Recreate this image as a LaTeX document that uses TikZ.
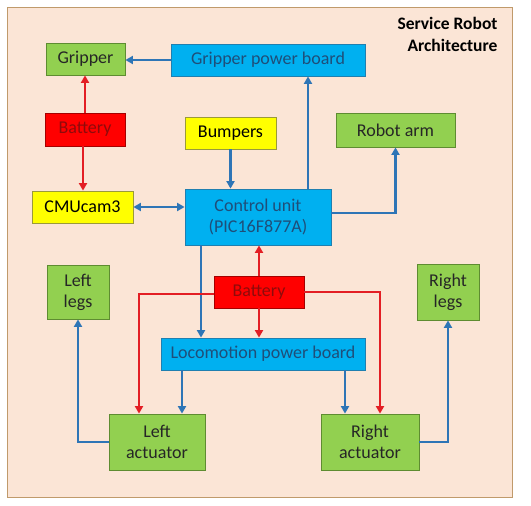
\documentclass[tikz,border=0pt]{standalone}
\usepackage{fontspec}
\setmainfont{Carlito}
\usetikzlibrary{arrows.meta}
\definecolor{bgpeach}{HTML}{FBE5D6}
\definecolor{framec}{HTML}{C09A6B}
\definecolor{gfill}{HTML}{92D050}
\definecolor{gdraw}{HTML}{5E8C31}
\definecolor{bfill}{HTML}{00B0F0}
\definecolor{bdraw}{HTML}{1F7FB0}
\definecolor{btext}{HTML}{1F4E79}
\definecolor{yfill}{HTML}{FFFF00}
\definecolor{ydraw}{HTML}{9A9A3A}
\definecolor{rfill}{HTML}{FF0000}
\definecolor{rdraw}{HTML}{A50000}
\definecolor{rtext}{HTML}{8E0B0B}
\definecolor{bline}{HTML}{2E75B6}
\definecolor{rline}{HTML}{E31E24}
\tikzset{
  box/.style={rectangle, inner sep=0pt, align=center, line width=0.8pt,
    font=\fontsize{18}{21}\selectfont},
  gbox/.style={box, fill=gfill, draw=gdraw, text=black!85},
  bbox/.style={box, fill=bfill, draw=bdraw, text=btext},
  ybox/.style={box, fill=yfill, draw=ydraw, text=black},
  rbox/.style={box, fill=rfill, draw=rdraw, text=rtext},
  bl/.style={draw=bline, line width=2.4pt, -{Triangle[length=7.5pt,width=8pt]}},
  rl/.style={draw=rline, line width=2.4pt, -{Triangle[length=7.5pt,width=8pt]}},
}
\begin{document}
\begin{tikzpicture}[x=1pt,y=-1pt]
\useasboundingbox (0,0) rectangle (531,506);
\path[fill=bgpeach, draw=framec, line width=1pt] (7,7) rectangle (512,497);
\node[anchor=east, align=right, font=\bfseries\fontsize{17.5}{22}\selectfont] (title) at (501,34) {Service Robot\\Architecture};

\node[gbox, minimum width=79pt, minimum height=32pt] (gripper) at (85.5,59) {Gripper};
\node[bbox, minimum width=194pt, minimum height=32pt] (gpb) at (268,60) {Gripper power board};
\node[rbox, minimum width=80pt, minimum height=33pt] (bat1) at (85,129.5) {Battery};
\node[ybox, minimum width=91pt, minimum height=32pt] (bumpers) at (230.5,133) {Bumpers};
\node[gbox, minimum width=119pt, minimum height=34pt] (arm) at (395.5,130) {Robot arm};
\node[ybox, minimum width=101pt, minimum height=32pt] (cmu) at (82.5,207) {CMUcam3};
\node[bbox, minimum width=146pt, minimum height=56pt] (ctrl) at (258,217) {Control unit\\(PIC16F877A)};
\node[gbox, minimum width=62pt, minimum height=54pt] (lleg) at (78,292) {Left\\legs};
\node[gbox, minimum width=62pt, minimum height=56pt] (rleg) at (448,292) {Right\\legs};
\node[rbox, minimum width=90pt, minimum height=32pt] (bat2) at (259,292) {Battery};
\node[bbox, minimum width=204pt, minimum height=32pt] (lpb) at (263,354) {Locomotion power board};
\node[gbox, minimum width=96pt, minimum height=56pt] (lact) at (157,442) {Left\\actuator};
\node[gbox, minimum width=98pt, minimum height=56pt] (ract) at (370,442) {Right\\actuator};

% blue connectors
\draw[bl] (gpb.west) -- (gpb.west -| gripper.east);
\draw[bl] ([xshift=50pt]ctrl.north) -- ([xshift=50pt]ctrl.north |- gpb.south);
\draw[bl] (bumpers.south) -- (bumpers.south |- ctrl.north);
\draw[bl, {Triangle[length=7.5pt,width=8pt]}-{Triangle[length=7.5pt,width=8pt]}] (cmu.east) -- (cmu.east -| ctrl.west);
\draw[bl] ([yshift=4pt]ctrl.east) -| (arm.south);
\draw[bl] ([xshift=-57pt]ctrl.south) -- ([xshift=-57pt]ctrl.south |- lpb.north);
\draw[bl] ([xshift=-81pt]lpb.south) -- ([xshift=-81pt]lpb.south |- lact.north);
\draw[bl] ([xshift=82pt]lpb.south) -- ([xshift=82pt]lpb.south |- ract.north);
\draw[bl] (lact.west) -| (lleg.south);
\draw[bl] (ract.east) -| (rleg.south);

% red connectors
\draw[rl] (bat1.north) -- (bat1.north |- gripper.south);
\draw[rl] ([xshift=-2pt]bat1.south) -- ([xshift=-2pt]bat1.south |- cmu.north);
\draw[rl] (bat2.north) -- (bat2.north |- ctrl.south);
\draw[rl] (bat2.south) -- (bat2.south |- lpb.north);
\draw[rl] ([yshift=-2pt]bat2.west) -| ([xshift=-18pt]lact.north);
\draw[rl] (bat2.east) -| ([xshift=10pt]ract.north);
\end{tikzpicture}
\end{document}
